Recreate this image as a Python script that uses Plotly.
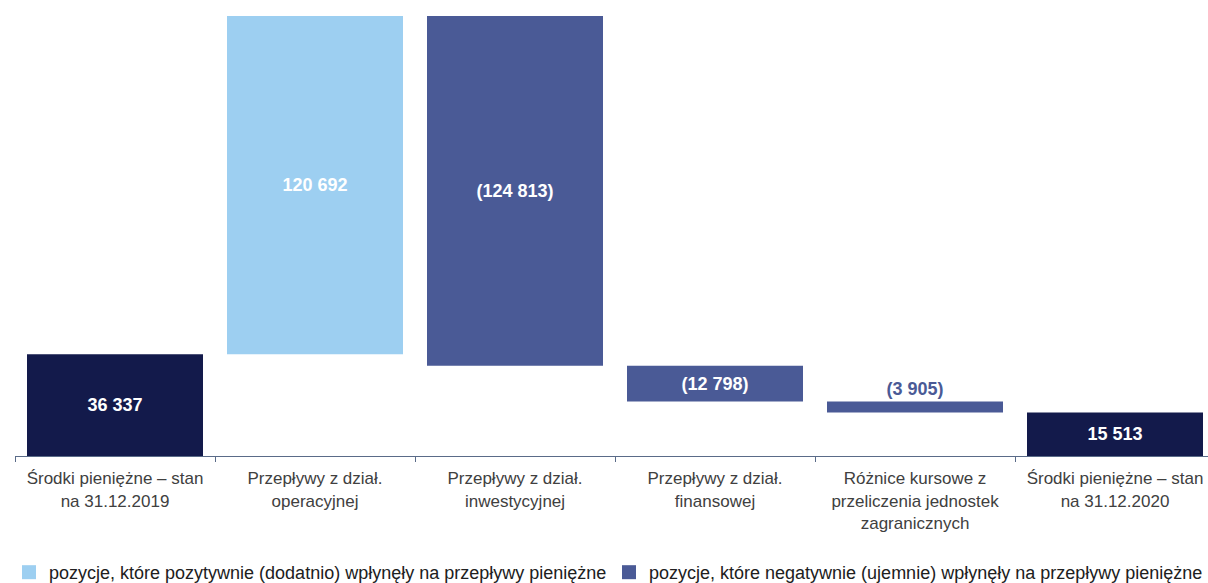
import plotly.graph_objects as go

categories = [
    "Środki pieniężne – stan<br>na 31.12.2019",
    "Przepływy z dział.<br>operacyjnej",
    "Przepływy z dział.<br>inwestycyjnej",
    "Przepływy z dział.<br>finansowej",
    "Różnice kursowe z<br>przeliczenia jednostek<br>zagranicznych",
    "Środki pieniężne – stan<br>na 31.12.2020",
]
kinds = ["total", "delta", "delta", "delta", "delta", "total"]
values = [36337, 120692, -124813, -12798, -3905, 15513]
legend_pos = "pozycje, które pozytywnie (dodatnio) wpłynęły na przepływy pieniężne"
legend_neg = "pozycje, które negatywnie (ujemnie) wpłynęły na przepływy pieniężne"

C_TOTAL = "#131A4B"
C_POS = "#9DCFF1"
C_NEG = "#4A5A96"
FONT = "Liberation Sans, Arial, sans-serif"


def fmt(v):
    s = f"{abs(v):,}".replace(",", " ")
    return f"({s})" if v < 0 else s


# compute bases and heights from the data
bases, heights = [], []
running = 0
for k, v in zip(kinds, values):
    if k == "total":
        bases.append(0)
        heights.append(v)
        running = v
    else:
        new = running + v
        bases.append(min(running, new))
        heights.append(abs(v))
        running = new

fig = go.Figure()


def add(idx, color):
    y = [heights[i] if i in idx else None for i in range(len(categories))]
    b = [bases[i] if i in idx else None for i in range(len(categories))]
    t = [fmt(values[i]) if i in idx else "" for i in range(len(categories))]
    pos = ["outside" if (i in idx and heights[i] < 6000) else "inside" for i in range(len(categories))]
    fig.add_trace(go.Bar(
        x=categories, y=y, base=b, showlegend=False,
        marker=dict(color=color, line=dict(width=0)),
        text=t, textposition=pos, insidetextanchor="middle",
        insidetextfont=dict(family=FONT, size=18, color="white", weight="bold"),
        outsidetextfont=dict(family=FONT, size=18, color=C_NEG, weight="bold"),
        textangle=0, cliponaxis=False, hoverinfo="skip",
    ))


tot_idx = [i for i, k in enumerate(kinds) if k == "total"]
pos_idx = [i for i, k in enumerate(kinds) if k == "delta" and values[i] > 0]
neg_idx = [i for i, k in enumerate(kinds) if k == "delta" and values[i] < 0]

add(tot_idx, C_TOTAL)
add(pos_idx, C_POS)
add(neg_idx, C_NEG)

# legend entries (square swatches)
for name, color in [(legend_pos, C_POS), (legend_neg, C_NEG)]:
    fig.add_trace(go.Scatter(
        x=[categories[0]], y=[None], mode="markers", name=name,
        marker=dict(symbol="square", size=14, color=color, line=dict(width=0)),
        hoverinfo="skip", showlegend=True,
    ))

top = max(b + h for b, h in zip(bases, heights))

fig.update_layout(
    width=1224, height=583,
    margin=dict(l=15, r=9, t=16, b=127, autoexpand=False),
    barmode="overlay", bargap=0.12,
    plot_bgcolor="white", paper_bgcolor="white",
    font=dict(family=FONT, size=17, color="#404040"),
    uniformtext=dict(minsize=18, mode="show"),
    xaxis=dict(
        type="category", categoryorder="array", categoryarray=categories,
        showline=True, linecolor="#5A6B88", linewidth=1,
        ticks="outside", tickson="boundaries", ticklen=5, tickcolor="#5A6B88",
        ticklabelstandoff=7,
        showgrid=False, tickfont=dict(family=FONT, size=17, color="#404040"),
        fixedrange=True, automargin=False,
    ),
    yaxis=dict(range=[0, top], visible=False, showgrid=False, fixedrange=True),
    legend=dict(
        orientation="h", x=-0.005, xanchor="left", y=-0.2227, yanchor="top",
        font=dict(family=FONT, size=18, color="#202020"),
        itemwidth=30, entrywidth=555, entrywidthmode="pixels",
        traceorder="normal",
    ),
    showlegend=True,
)

fig.write_html(
    "out.html",
    config={"displayModeBar": False},
    post_script="document.documentElement.style.overflow='hidden';"
                "document.body.style.margin='0';document.body.style.overflow='hidden';",
)
